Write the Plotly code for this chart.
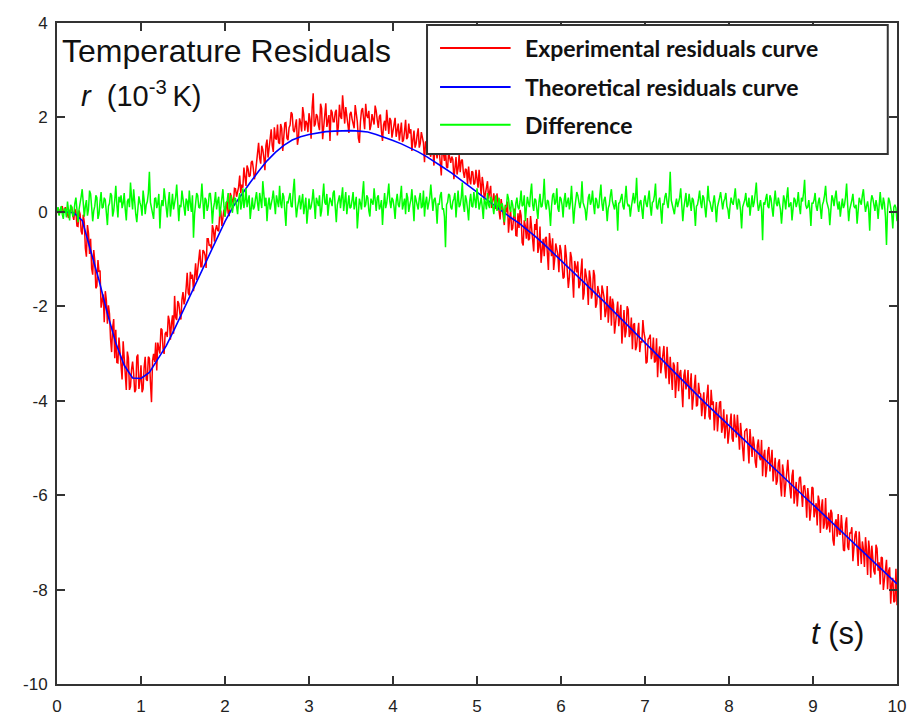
import numpy as np
import plotly.graph_objects as go

# ---- data -------------------------------------------------------------
# sample times of the measured record (dt = 0.0125 s) and of the model curve (dt = 0.1 s)
t_meas = np.linspace(0.0, 10.0, 801)
t_model = np.linspace(0.0, 10.0, 101)

# theoretical residuals curve (10^-3 K)
theoretical = [
    0.00, 0.00, -0.02, -0.18, -0.82, -1.45, -2.15, -2.78, -3.25, -3.52,
    -3.53, -3.40, -3.12, -2.84, -2.48, -2.10, -1.72, -1.35, -0.97, -0.58,
    -0.20, 0.12, 0.38, 0.62, 0.86, 1.08, 1.26, 1.41, 1.52, 1.59,
    1.64, 1.67, 1.70, 1.71, 1.72, 1.72, 1.71, 1.69, 1.64, 1.58,
    1.51, 1.44, 1.36, 1.27, 1.17, 1.06, 0.94, 0.82, 0.69, 0.56,
    0.42, 0.28, 0.14, 0.00, -0.12, -0.24, -0.38, -0.53, -0.69, -0.86,
    -1.02, -1.18, -1.35, -1.52, -1.70, -1.88, -2.06, -2.24, -2.42, -2.60,
    -2.78, -2.96, -3.14, -3.32, -3.50, -3.68, -3.85, -4.02, -4.19, -4.36,
    -4.53, -4.70, -4.87, -5.03, -5.20, -5.37, -5.54, -5.70, -5.87, -6.04,
    -6.20, -6.37, -6.54, -6.70, -6.87, -7.04, -7.20, -7.37, -7.54, -7.71,
    -7.88,
]

# experimental residuals curve (10^-3 K), one row per 0.1 s
experimental = [
    0.04, -0.02, -0.06, 0.05, 0.08, 0.12, -0.03, 0.02,
    0.10, 0.02, -0.09, -0.13, 0.01, 0.05, 0.11, -0.07,
    -0.17, 0.06, 0.00, -0.30, -0.31, 0.03, -0.05, -0.41,
    -0.48, -0.06, -0.22, -0.77, -0.95, -0.28, -0.46, -0.89,
    -0.57, -1.20, -1.33, -0.81, -1.04, -1.62, -1.57, -1.02,
    -1.27, -1.24, -2.03, -1.87, -1.75, -2.34, -1.68, -1.87,
    -2.37, -1.98, -2.16, -2.69, -2.97, -2.45, -2.27, -3.10,
    -2.50, -3.19, -3.20, -2.66, -2.90, -3.28, -3.55, -2.74,
    -3.05, -3.39, -3.77, -2.96, -3.09, -3.77, -3.70, -3.34,
    -3.17, -3.42, -3.82, -3.77, -3.07, -3.02, -3.75, -3.58,
    -3.25, -3.82, -3.75, -3.29, -3.07, -3.55, -3.58, -3.07,
    -3.10, -3.62, -4.03, -3.15, -3.01, -3.18, -2.77, -3.36,
    -2.77, -2.89, -3.00, -2.47, -2.50, -2.90, -3.01, -2.58,
    -2.54, -2.65, -2.20, -2.31, -2.71, -2.37, -2.19, -2.58,
    -1.78, -2.24, -2.29, -1.89, -1.94, -2.15, -2.28, -1.85,
    -1.70, -1.96, -1.86, -1.61, -1.29, -1.72, -1.77, -1.27,
    -1.42, -1.33, -1.68, -1.39, -1.09, -1.44, -1.24, -1.00,
    -0.80, -1.16, -1.16, -0.81, -0.84, -0.92, -1.19, -0.57,
    -0.57, -0.72, -0.69, -0.78, -0.28, -0.38, -0.63, -0.38,
    -0.28, -0.39, -0.41, -0.04, 0.03, -0.30, -0.15, 0.05,
    -0.10, 0.09, 0.23, -0.03, -0.09, 0.40, 0.32, 0.23,
    0.17, 0.50, 0.49, 0.32, 0.40, 0.53, 0.77, 0.40,
    0.58, 0.51, 0.94, 0.77, 0.55, 0.98, 0.91, 0.74,
    0.77, 1.05, 1.08, 0.91, 0.69, 0.82, 1.10, 1.33,
    1.46, 1.14, 1.02, 1.40, 1.32, 1.15, 0.88, 1.41,
    1.53, 1.15, 1.33, 1.55, 1.75, 1.40, 1.27, 1.79,
    1.56, 1.53, 1.85, 1.47, 1.44, 1.86, 1.77, 1.29,
    1.61, 1.88, 1.89, 1.56, 1.52, 1.78, 1.84, 2.11,
    2.07, 1.73, 1.69, 1.90, 1.96, 1.42, 1.57, 1.98,
    1.89, 1.70, 2.22, 2.06, 1.72, 1.93, 1.88, 1.69,
    2.09, 1.95, 1.55, 2.21, 2.51, 1.81, 1.86, 2.07,
    2.02, 1.83, 1.73, 2.29, 2.19, 1.54, 1.84, 1.95,
    2.30, 1.80, 1.95, 2.05, 1.50, 2.16, 2.11, 1.91,
    1.91, 2.11, 2.16, 1.62, 1.82, 2.27, 2.02, 1.97,
    2.47, 2.02, 1.87, 2.22, 2.07, 1.87, 1.67, 2.07,
    2.12, 1.97, 1.82, 1.77, 2.26, 2.11, 1.91, 1.56,
    1.46, 1.91, 2.15, 2.20, 1.85, 1.75, 2.29, 2.04,
    1.99, 2.14, 1.73, 1.83, 2.07, 1.96, 1.85, 2.25,
    2.14, 1.94, 1.78, 2.02, 2.06, 1.71, 1.50, 1.84,
    1.93, 1.72, 2.16, 1.91, 1.65, 1.99, 1.93, 1.57,
    1.71, 1.85, 1.99, 1.59, 1.73, 1.87, 1.51, 1.70,
    1.89, 1.48, 1.52, 1.71, 1.95, 1.54, 1.58, 1.87,
    1.66, 1.75, 1.29, 1.53, 1.72, 1.36, 1.44, 1.63,
    1.77, 1.36, 1.45, 1.69, 1.57, 1.46, 1.05, 1.49,
    1.47, 1.36, 1.59, 1.23, 1.17, 1.51, 1.34, 0.98,
    1.46, 1.30, 1.13, 1.37, 1.30, 1.04, 0.77, 1.41,
    1.19, 1.08, 1.31, 0.95, 0.93, 1.27, 1.15, 1.04,
    1.17, 1.11, 0.69, 0.93, 1.16, 0.79, 0.92, 1.21,
    0.84, 1.08, 1.11, 0.84, 0.72, 0.91, 0.89, 0.58,
    0.96, 0.70, 0.58, 0.86, 0.84, 0.58, 0.61, 0.89,
    0.72, 0.51, 0.89, 0.62, 0.35, 0.74, 0.57, 0.25,
    0.38, 0.57, 0.65, 0.28, 0.41, 0.55, 0.08, 0.31,
    0.39, 0.18, 0.06, 0.39, 0.22, -0.04, -0.16, 0.27,
    0.10, -0.17, -0.28, 0.15, -0.01, 0.22, -0.44, -0.16,
    0.03, -0.39, -0.35, -0.07, 0.07, -0.50, -0.51, -0.03,
    -0.34, 0.04, -0.08, -0.65, -0.71, -0.18, -0.30, -0.57,
    -0.13, -0.60, -0.57, -0.09, -0.36, -0.53, -0.84, -0.26,
    -0.38, -0.15, -0.87, -0.74, -0.31, -1.08, -0.70, -0.57,
    -0.94, -0.56, -0.53, -1.05, -1.23, -0.45, -0.72, -0.94,
    -0.56, -1.23, -1.00, -0.67, -0.79, -0.91, -1.28, -0.70,
    -0.82, -1.14, -1.41, -1.38, -0.70, -0.92, -1.19, -1.61,
    -1.38, -0.85, -0.97, -1.35, -1.82, -1.04, -1.21, -1.28,
    -1.05, -1.62, -1.54, -1.32, -0.99, -1.86, -1.73, -1.20,
    -1.37, -1.50, -1.97, -1.24, -1.41, -1.84, -1.71, -1.23,
    -1.35, -2.03, -1.95, -1.57, -1.69, -1.77, -2.29, -1.56,
    -1.68, -1.81, -2.23, -2.10, -1.57, -2.35, -2.02, -1.79,
    -2.41, -1.84, -1.96, -2.58, -2.35, -2.08, -1.90, -2.42,
    -2.19, -1.97, -2.79, -2.31, -2.08, -2.66, -2.53, -2.00,
    -2.07, -2.65, -2.57, -2.24, -2.91, -2.39, -2.36, -2.93,
    -2.85, -2.58, -2.35, -2.97, -2.74, -2.77, -2.29, -2.56,
    -2.68, -3.21, -3.18, -2.70, -2.67, -2.60, -3.12, -2.99,
    -2.66, -3.19, -3.16, -2.68, -3.50, -3.03, -2.85, -3.42,
    -3.19, -2.92, -2.84, -3.31, -3.53, -2.86, -3.18, -3.65,
    -3.07, -3.50, -3.77, -3.19, -3.26, -3.94, -3.56, -3.18,
    -3.80, -3.43, -3.35, -3.87, -4.14, -3.47, -3.34, -3.76,
    -3.63, -3.35, -3.97, -3.70, -3.42, -4.19, -3.91, -3.63,
    -3.45, -4.12, -4.09, -3.62, -3.84, -3.86, -4.33, -4.05,
    -3.82, -4.39, -4.16, -3.94, -3.66, -4.33, -4.40, -3.77,
    -4.09, -4.01, -4.63, -4.26, -4.03, -4.65, -4.32, -4.04,
    -4.01, -4.68, -4.55, -4.18, -4.80, -4.42, -4.29, -4.91,
    -4.63, -4.40, -4.27, -4.80, -4.87, -4.29, -4.51, -4.78,
    -4.30, -4.82, -5.04, -4.47, -4.74, -5.06, -5.28, -4.65,
    -4.62, -4.59, -4.96, -5.33, -4.60, -4.87, -5.19, -4.76,
    -4.93, -5.30, -5.42, -4.95, -4.82, -5.19, -5.26, -4.83,
    -5.60, -5.17, -5.04, -5.62, -5.44, -5.06, -4.98, -5.50,
    -5.32, -5.04, -5.71, -5.34, -5.21, -5.78, -5.70, -5.32,
    -5.24, -5.76, -6.03, -5.35, -5.52, -6.04, -5.71, -5.58,
    -5.25, -5.62, -5.94, -6.07, -5.59, -5.46, -6.18, -5.90,
    -5.72, -6.24, -6.01, -5.64, -5.61, -5.93, -6.25, -5.82,
    -5.79, -6.01, -6.48, -5.85, -6.07, -6.54, -6.31, -5.83,
    -5.85, -6.47, -6.29, -6.17, -6.64, -6.01, -6.13, -6.80,
    -6.27, -6.09, -6.71, -6.59, -6.06, -6.73, -6.65, -6.37,
    -6.79, -6.31, -6.38, -6.95, -7.07, -6.59, -6.51, -6.88,
    -6.40, -6.82, -6.84, -6.42, -6.74, -7.16, -7.18, -6.60,
    -6.47, -7.09, -7.16, -6.79, -6.81, -6.68, -7.40, -7.07,
    -6.84, -6.76, -7.13, -7.50, -6.77, -7.04, -7.46, -6.98,
    -7.15, -7.52, -6.89, -7.17, -7.69, -6.96, -7.18, -7.75,
    -7.07, -7.34, -7.61, -7.68, -7.05, -7.13, -7.60, -7.42,
    -7.89, -7.31, -7.33, -8.01, -7.78, -7.45, -7.37, -7.99,
    -7.61, -7.53, -8.30, -7.88, -7.75, -8.27, -8.24, -7.56,
    -8.33,
]

# difference between the experimental and theoretical residuals (10^-3 K), one row per 0.25 s
difference = [
    0.02, 0.10, -0.08, 0.03, 0.12, -0.05, -0.15, 0.08, 0.05, -0.12, 0.22, 0.02, -0.18, 0.15, 0.10, -0.10, -0.05, 0.18, 0.30, 0.05,
    -0.22, 0.05, 0.15, 0.32, 0.48, 0.20, -0.10, 0.12, 0.25, -0.08, 0.05, 0.45, 0.38, 0.10, -0.20, 0.02, 0.12, 0.35, 0.30, -0.15,
    -0.05, 0.22, 0.42, 0.08, 0.10, 0.30, 0.25, -0.02, -0.28, 0.12, 0.18, 0.40, 0.35, -0.10, 0.02, 0.25, 0.55, 0.15, -0.12, 0.32,
    0.20, 0.35, 0.08, 0.18, 0.40, 0.05, -0.18, 0.22, 0.28, 0.10, 0.62, 0.30, 0.05, 0.48, 0.15, -0.05, -0.22, 0.12, 0.33, 0.20,
    0.12, -0.08, 0.45, 0.25, -0.05, 0.15, 0.22, 0.40, 0.85, 0.20, 0.10, 0.02, -0.15, 0.28, 0.30, 0.08, 0.18, 0.38, -0.35, 0.10,
    0.25, 0.12, 0.50, 0.30, 0.05, -0.12, 0.20, 0.42, -0.10, 0.18, 0.38, 0.05, 0.15, 0.32, 0.58, 0.22, -0.20, 0.15, 0.10, 0.45,
    0.30, 0.15, -0.08, 0.28, 0.22, 0.02, 0.45, 0.18, 0.00, 0.35, -0.55, -0.05, 0.18, 0.40, 0.35, 0.10, 0.08, 0.25, 0.60, 0.05,
    -0.15, 0.30, 0.25, 0.02, 0.12, 0.38, 0.40, 0.15, -0.25, 0.08, 0.20, 0.42, 0.05, 0.22, 0.32, -0.10, 0.15, 0.28, 0.48, 0.12,
    -0.10, 0.20, 0.22, 0.40, 0.05, 0.12, 0.35, -0.02, 0.12, 0.30, 0.28, 0.15, -0.05, 0.25, 0.40, 0.05, 0.18, 0.50, 0.08, 0.22,
    0.50, 0.10, 0.20, 0.35, -0.15, 0.12, 0.30, 0.05, 0.10, 0.28, 0.42, 0.18, 0.02, 0.40, 0.25, 0.08, 0.65, 0.25, 0.12, 0.30,
    -0.20, 0.15, 0.30, 0.05, 0.15, 0.28, 0.45, 0.20, -0.05, 0.35, 0.22, 0.10, 0.55, 0.18, 0.08, 0.40, 0.32, 0.02, -0.30, 0.22,
    0.18, 0.30, 0.40, 0.12, 0.10, 0.45, 0.70, 0.20, -0.12, 0.08, 0.25, 0.35, 0.05, 0.22, 0.38, -0.05, 0.15, 0.30, -0.25, 0.10,
    0.28, 0.05, 0.10, 0.25, 0.48, 0.18, -0.15, 0.30, 0.20, 0.12, 0.35, -0.10, 0.02, 0.28, 0.60, 0.20, 0.15, 0.38, -0.08, 0.15,
    0.30, 0.22, 0.12, 0.40, 0.45, 0.10, -0.22, 0.15, 0.25, 0.35, 0.08, 0.28, 0.52, 0.02, 0.18, 0.42, -0.05, 0.20, 0.35, 0.08,
    0.10, 0.25, 0.42, 0.05, 0.20, 0.32, -0.35, 0.12, 0.28, 0.18, 0.05, 0.40, 0.65, 0.10, 0.15, 0.35, 0.30, 0.02, -0.10, 0.28,
    0.22, 0.15, 0.50, 0.20, 0.02, 0.30, 0.35, 0.05, 0.12, 0.25, -0.28, 0.12, 0.40, 0.08, 0.18, 0.38, 0.60, 0.22, 0.08, 0.30,
    0.25, 0.10, -0.15, 0.22, 0.38, 0.15, 0.10, 0.32, 0.55, 0.05, 0.20, 0.28, -0.05, 0.40, 0.30, 0.00, 0.15, 0.25, 0.48, 0.12,
    -0.20, 0.35, 0.22, 0.10, 0.05, 0.28, 0.40, 0.08, 0.12, 0.45, -0.10, 0.20, 0.32, 0.05, 0.18, 0.30, 0.58, 0.15, 0.02, 0.25,
    0.30, 0.12, -0.25, 0.18, 0.15, 0.35, 0.42, 0.05, 0.08, -0.10, -0.75, 0.15, 0.20, 0.38, 0.35, 0.10, 0.05, 0.22, 0.28, 0.40,
    -0.12, 0.20, 0.45, 0.10, 0.15, 0.30, 0.62, 0.15, 0.00, 0.35, 0.25, 0.05, -0.18, 0.22, 0.38, 0.12, 0.10, 0.42, 0.22, 0.08,
    0.50, 0.25, 0.05, 0.18, 0.30, 0.10, -0.15, 0.28, 0.20, 0.05, 0.40, 0.15, 0.08, 0.32, 0.25, 0.12, -0.05, 0.20, 0.35, 0.02,
    0.12, 0.30, 0.02, 0.15, 0.18, 0.05, -0.22, 0.12, 0.10, 0.38, 0.28, 0.08, 0.00, 0.25, 0.15, -0.05, -0.10, 0.18, 0.30, 0.10,
    0.05, 0.22, 0.45, 0.12, 0.15, 0.35, -0.20, 0.08, 0.32, 0.18, 0.10, 0.40, 0.60, 0.15, 0.02, 0.28, 0.25, 0.05, -0.15, 0.20,
    0.38, 0.10, 0.12, 0.30, 0.70, 0.18, 0.05, 0.25, 0.22, 0.02, -0.30, 0.12, 0.35, 0.40, 0.15, 0.20, 0.50, 0.08, 0.00, 0.32,
    0.28, 0.15, -0.12, 0.25, 0.40, 0.10, 0.18, 0.30, 0.05, 0.20, 0.55, 0.12, -0.25, 0.05, 0.20, 0.42, 0.35, 0.18, 0.08, 0.22,
    0.65, 0.20, 0.12, 0.05, -0.18, 0.12, 0.30, 0.38, 0.15, 0.22, 0.45, 0.15, -0.05, 0.30, 0.25, 0.08, 0.10, 0.35, 0.58, 0.18,
    0.02, 0.25, 0.32, 0.12, -0.20, 0.08, 0.15, 0.35, 0.48, 0.22, 0.10, 0.05, 0.25, 0.10, -0.40, 0.18, 0.20, 0.30, 0.38, 0.12,
    0.05, 0.28, 0.55, 0.20, 0.12, 0.15, -0.10, 0.10, 0.30, 0.40, 0.18, 0.30, 0.72, 0.15, 0.00, 0.20, 0.25, 0.08, -0.15, 0.22,
    0.35, 0.18, 0.10, 0.28, 0.45, 0.12, -0.08, 0.20, 0.22, 0.35, 0.60, 0.10, 0.05, 0.22, 0.30, 0.05, -0.25, 0.18, 0.15, 0.32,
    0.40, 0.20, 0.08, 0.35, 0.85, 0.25, 0.12, 0.02, -0.05, 0.15, 0.28, 0.10, 0.18, 0.30, 0.50, 0.12, -0.20, 0.08, 0.22, 0.40,
    0.10, 0.15, 0.38, 0.22, 0.02, 0.30, 0.25, 0.05, -0.30, 0.12, 0.15, 0.28, 0.45, 0.20, 0.08, 0.35, 0.30, 0.10, -0.12, 0.18,
    0.55, 0.25, 0.20, 0.08, 0.00, 0.20, 0.35, 0.12, -0.22, 0.10, 0.18, 0.30, 0.42, 0.15, 0.05, 0.22, 0.28, 0.40, 0.12, 0.05,
    -0.15, 0.12, 0.30, 0.20, 0.15, 0.32, 0.50, 0.18, 0.05, 0.28, 0.22, 0.02, -0.35, 0.10, 0.18, 0.25, 0.40, 0.15, 0.10, 0.30,
    -0.08, 0.18, 0.35, 0.10, 0.20, 0.40, 0.62, 0.22, 0.02, 0.12, 0.25, 0.05, -0.60, 0.20, 0.15, 0.28, 0.38, 0.12, 0.08, 0.35,
    0.28, 0.08, -0.10, 0.22, 0.45, 0.18, 0.12, 0.30, 0.20, 0.05, -0.25, 0.12, 0.35, 0.25, 0.05, 0.32, 0.52, 0.10, 0.15, 0.20,
    -0.18, 0.15, 0.30, 0.25, 0.10, 0.20, 0.42, 0.12, -0.05, 0.30, 0.22, 0.40, 0.68, 0.15, 0.08, 0.10, 0.25, 0.05, -0.30, 0.18,
    0.18, 0.25, 0.40, 0.12, 0.02, 0.20, 0.30, 0.08, -0.15, 0.15, 0.22, 0.35, 0.55, 0.22, 0.10, 0.05, -0.28, 0.12, 0.35, 0.28,
    0.12, 0.30, 0.45, 0.18, 0.05, 0.22, -0.10, 0.10, 0.28, 0.08, 0.15, 0.32, 0.60, 0.15, -0.20, 0.05, 0.20, 0.25, 0.38, 0.12,
    0.08, 0.15, -0.25, 0.10, 0.30, 0.22, 0.15, 0.35, 0.48, 0.20, 0.00, 0.12, 0.22, 0.05, -0.40, 0.18, 0.35, 0.28, 0.12, 0.02,
    0.25, 0.12, -0.15, 0.20, 0.42, 0.15, 0.05, 0.30, 0.18, -0.10, -0.70, 0.05, 0.30, 0.22, 0.10, -0.05, -0.35, 0.10, 0.15, 0.08,
    -0.20,
]

assert len(experimental) == len(t_meas) == len(difference)
assert len(theoretical) == len(t_model)

x_ticks = list(range(0, 11))
y_ticks = list(range(-10, 5, 2))

series = [
    ("Experimental residuals curve", t_meas, experimental, "#FF0000", 1.5),
    ("Theoretical residuals curve", t_model, theoretical, "#0000FF", 1.6),
    ("Difference", t_meas, difference, "#00FF00", 1.5),
]

# ---- figure -----------------------------------------------------------
fig = go.Figure()
for name, tx, vals, color, width in series:
    fig.add_trace(go.Scatter(
        x=tx, y=vals, mode="lines", name=name,
        line=dict(color=color, width=width),
        showlegend=False,
    ))

axis_common = dict(
    showline=True, linecolor="#333333", linewidth=2,
    mirror="ticks", ticks="inside", ticklen=8, tickwidth=1.5, tickcolor="#333333",
    showgrid=False, zeroline=False, automargin=False,
    tickfont=dict(family="Arial, Liberation Sans, sans-serif", size=17, color="#222222"),
)

fig.update_layout(
    width=910, height=717,
    margin=dict(l=57, r=13, t=23, b=33, pad=0),
    paper_bgcolor="white", plot_bgcolor="white",
    xaxis=dict(range=[0, 10], tickvals=x_ticks, ticktext=[str(v) for v in x_ticks],
               ticklabelstandoff=6, **axis_common),
    yaxis=dict(range=[-10, 4], tickvals=y_ticks, ticktext=[str(v) for v in y_ticks],
               ticklabelstandoff=4, **axis_common),
    font=dict(family="Arial, Liberation Sans, sans-serif", color="#111111"),
)

# axis captions
fig.add_annotation(
    xref="paper", yref="paper", x=0.004, y=0.957, xanchor="left", yanchor="middle",
    text="Temperature Residuals", showarrow=False,
    font=dict(size=32, color="#111111"),
)
fig.add_annotation(
    xref="paper", yref="paper", x=0.026, y=0.893, xanchor="left", yanchor="middle",
    text="<i>r</i>  (10<sup>-3 </sup>K)", showarrow=False,
    font=dict(size=29, color="#111111"),
)
fig.add_annotation(
    xref="paper", yref="paper", x=0.895, y=0.077, xanchor="left", yanchor="middle",
    text="<i>t</i> (s)", showarrow=False,
    font=dict(size=31, color="#111111"),
)

# legend box with line samples
fig.add_shape(
    type="rect", xref="paper", yref="paper",
    x0=0.4405, x1=0.989, y0=0.8018, y1=0.997,
    line=dict(color="#333333", width=2), fillcolor="white", layer="above",
)
legend_rows = [0.962, 0.903, 0.846]
for (name, _, _, color, _), ry in zip(series, legend_rows):
    fig.add_shape(
        type="line", xref="paper", yref="paper",
        x0=0.456, x1=0.540, y0=ry, y1=ry,
        line=dict(color=color, width=2), layer="above",
    )
    fig.add_annotation(
        xref="paper", yref="paper", x=0.555, y=ry, xanchor="left", yanchor="middle",
        text=name, showarrow=False,
        font=dict(family="Lato, sans-serif", size=23, color="#111111", weight=700),
    )

fig.write_html("out.html")
